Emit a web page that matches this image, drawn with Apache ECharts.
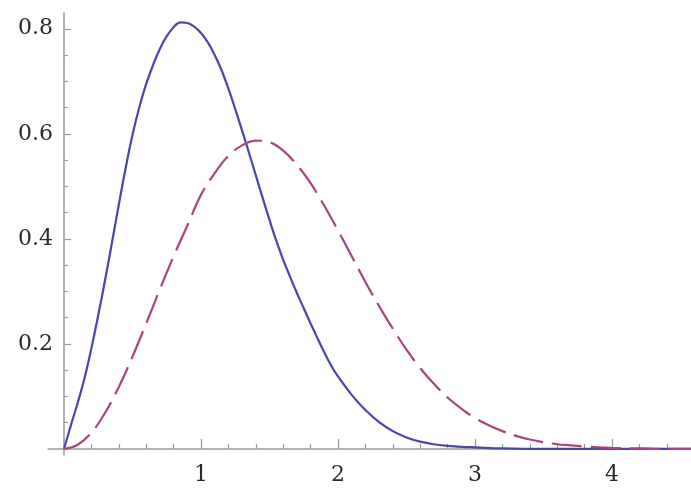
<!DOCTYPE html>
<html>
<head>
<meta charset="utf-8">
<script src="https://cdn.jsdelivr.net/npm/echarts@6/dist/echarts.min.js"></script>
<style>
  html, body { margin: 0; padding: 0; background: #fff; }
  #chart { width: 691px; height: 497px; }
</style>
</head>
<body>
<div id="chart"></div>
<script>
// solid (blue) curve
var solidX = [0, 0.05, 0.1, 0.15, 0.2, 0.25, 0.3, 0.35, 0.4, 0.45,
              0.5, 0.55, 0.6, 0.65, 0.7, 0.75, 0.8, 0.85, 0.9, 0.95,
              1.0, 1.05, 1.1, 1.15, 1.2, 1.25, 1.3, 1.35, 1.4, 1.45,
              1.5, 1.55, 1.6, 1.65, 1.7, 1.75, 1.8, 1.85, 1.9, 1.95,
              2.0, 2.1, 2.2, 2.3, 2.4, 2.5, 2.6, 2.7, 2.8, 2.9,
              3.0, 3.2, 3.5, 4.0, 4.6];
var solidY = [0, 0.045, 0.088, 0.135, 0.192, 0.255, 0.322, 0.393, 0.465, 0.535,
              0.598, 0.651, 0.695, 0.731, 0.762, 0.786, 0.803, 0.812, 0.811, 0.804,
              0.792, 0.774, 0.75, 0.721, 0.686, 0.647, 0.606, 0.564, 0.521, 0.478,
              0.436, 0.396, 0.36, 0.328, 0.297, 0.268, 0.239, 0.211, 0.184, 0.159,
              0.138, 0.103, 0.074, 0.051, 0.034, 0.022, 0.014, 0.009, 0.006, 0.004,
              0.003, 0.001, 0, 0, 0];

// dashed (magenta) curve
var dashedX = [0, 0.1, 0.2, 0.3, 0.4, 0.5, 0.6, 0.7, 0.8, 0.9,
               1.0, 1.1, 1.2, 1.3, 1.4, 1.5, 1.6, 1.7, 1.8, 1.9,
               2.0, 2.1, 2.2, 2.3, 2.4, 2.5, 2.6, 2.7, 2.8, 2.9,
               3.0, 3.1, 3.2, 3.3, 3.4, 3.5, 3.6, 3.7, 3.8, 3.9,
               4.0, 4.2, 4.4, 4.6];
var dashedY = [0, 0.008, 0.031, 0.069, 0.118, 0.176, 0.239, 0.304, 0.367, 0.425,
               0.484, 0.525, 0.558, 0.578, 0.587, 0.584, 0.568, 0.541, 0.506, 0.463,
               0.416, 0.367, 0.318, 0.272, 0.229, 0.189, 0.154, 0.124, 0.098, 0.077,
               0.059, 0.045, 0.034, 0.025, 0.018, 0.013, 0.009, 0.007, 0.005, 0.003,
               0.002, 0.001, 0, 0];

// tick labels / tick positions
var xMajor = [1, 2, 3, 4];
var xMinor = [0.2, 0.4, 0.6, 0.8, 1.2, 1.4, 1.6, 1.8, 2.2, 2.4, 2.6, 2.8,
              3.2, 3.4, 3.6, 3.8, 4.2, 4.4];
var yMajor = [0.2, 0.4, 0.6, 0.8];
var yMinor = [0.05, 0.1, 0.15, 0.25, 0.3, 0.35, 0.45, 0.5, 0.55,
              0.65, 0.7, 0.75];

function pairs(x, y) {
  var out = [];
  for (var i = 0; i < x.length; i++) out.push([x[i], y[i]]);
  return out;
}

var axisGray = '#9a9a9a';
var X_MIN = -0.117, X_MAX = 4.577;
var Y_MIN = -0.0115, Y_MAX = 0.83;
var labelFont = {
  fontFamily: 'DejaVu Serif',
  fontSize: 22,
  color: '#2a2a2a'
};

var chart = echarts.init(document.getElementById('chart'));
var option = {
  animation: false,
  backgroundColor: '#fff',
  grid: { left: 48, right: 0, top: 13, bottom: 42, containLabel: false },
  xAxis: [
    {
      type: 'value', min: X_MIN, max: X_MAX, position: 'bottom',
      axisLine: { onZero: true, lineStyle: { color: axisGray, width: 1.5 } },
      axisTick: { inside: true, length: 10, customValues: xMajor,
                  lineStyle: { color: axisGray, width: 1.2 } },
      axisLabel: Object.assign({ customValues: xMajor, margin: 9,
                  formatter: function (v) { return String(v); } }, labelFont),
      splitLine: { show: false }
    },
    {
      type: 'value', min: X_MIN, max: X_MAX, position: 'bottom',
      axisLine: { show: false, onZero: true },
      axisTick: { inside: true, length: 5, customValues: xMinor,
                  lineStyle: { color: axisGray, width: 1.2 } },
      axisLabel: { show: false },
      splitLine: { show: false }
    }
  ],
  yAxis: [
    {
      type: 'value', min: Y_MIN, max: Y_MAX, position: 'left',
      axisLine: { onZero: true, lineStyle: { color: axisGray, width: 1.5 } },
      axisTick: { inside: true, length: 7, customValues: yMajor,
                  lineStyle: { color: axisGray, width: 1.2 } },
      axisLabel: Object.assign({ customValues: yMajor, margin: -5,
                  formatter: function (v) { return v.toFixed(1); } }, labelFont),
      splitLine: { show: false }
    },
    {
      type: 'value', min: Y_MIN, max: Y_MAX, position: 'left',
      axisLine: { show: false, onZero: true },
      axisTick: { inside: true, length: 4, customValues: yMinor,
                  lineStyle: { color: axisGray, width: 1.2 } },
      axisLabel: { show: false },
      splitLine: { show: false }
    }
  ],
  series: [
    {
      name: 'solid', type: 'line', xAxisIndex: 0, yAxisIndex: 0,
      data: pairs(solidX, solidY), smooth: 0.4, showSymbol: false,
      lineStyle: { color: '#4747ad', width: 2.2 }
    },
    {
      name: 'dashed', type: 'line', xAxisIndex: 0, yAxisIndex: 0,
      data: pairs(dashedX, dashedY), smooth: 0.4, showSymbol: false,
      lineStyle: { color: '#a8447f', width: 2.2, type: [30, 9] }
    }
  ]
};
chart.setOption(option);
</script>
</body>
</html>
